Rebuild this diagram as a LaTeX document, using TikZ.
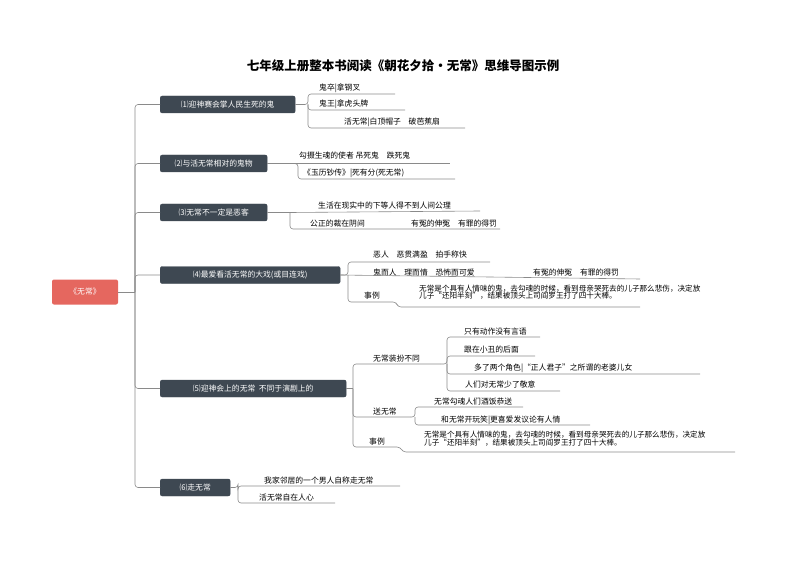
\documentclass[tikz,border=0pt]{standalone}
\usepackage{fontspec}
\setmainfont{Noto Sans CJK SC}
\begin{document}
\begin{tikzpicture}[x=1pt,y=-1pt,
  mainbox/.style={fill=boxc,draw=boxc,rounded corners=2pt,text=white,font=\fontsize{7.8}{8}\selectfont,minimum height=17pt,inner sep=1pt,anchor=west},
  leaf/.style={font=\fontsize{7.8}{8}\selectfont,inner sep=1pt,anchor=base west},
  para/.style={font=\fontsize{7.6}{7.4}\selectfont,inner sep=0pt,anchor=north west,align=left},
  ln/.style={draw=linec,line width=0.6pt},
  br/.style={draw=linec,line width=0.6pt,rounded corners=3pt}]
\definecolor{boxc}{HTML}{3E4852}
\definecolor{linec}{HTML}{8A8A8A}
\definecolor{rootc}{HTML}{E5675F}
\useasboundingbox (0,0) rectangle (794,561);
\node[font=\bfseries\fontsize{12.5}{14}\selectfont] (title) at (403,66) {七年级上册整本书阅读《朝花夕拾·无常》思维导图示例};
\node[fill=rootc,rounded corners=2pt,text=white,minimum width=66pt,minimum height=25pt,font=\fontsize{7.8}{8}\selectfont] (root) at (85,292) {《无常》};
% main boxes
\node[mainbox,minimum width=135pt] (m1) at (160,104.5) {⑴迎神赛会掌人民生死的鬼};
\node[mainbox,minimum width=107pt] (m2) at (160,163.5) {⑵与活无常相对的鬼物};
\node[mainbox,minimum width=107pt] (m3) at (160,212.5) {⑶无常不一定是恶客};
\node[mainbox,minimum width=180pt] (m4) at (160,275) {⑷最爱看活无常的大戏(或目连戏)};
\node[mainbox,minimum width=186pt] (m5) at (160,388.5) {⑸迎神会上的无常\ \ 不同于演剧上的};
\node[mainbox,minimum width=70pt] (m6) at (160,487.5) {⑹走无常};
% trunk
\coordinate (t) at (135,292);
\draw[ln] (root.east) -- (t);
\foreach \m in {m1,m2,m3,m4,m5,m6}{\draw[br] (t) -- (t |- \m.west) -- (\m.west);}
% (1)
\node[leaf] (a1) at (318,91) {鬼卒|拿钢叉};
\node[leaf] (a2) at (318,107) {鬼王|拿虎头牌};
\node[leaf] (a3) at (343,125) {活无常|白顶帽子\quad 破芭蕉扇};
\draw[br] (m1.east) -- (308,104.5) -- (308,94) -- (395,94);
\draw[br] (308,104.5) -- (308,110) -- (405,110);
\draw[br] (308,104.5) -- (308,128) -- (465,128);
% (2)
\node[leaf] (b1) at (298,159) {勾摄生魂的使者\ 吊死鬼\quad 跌死鬼};
\node[leaf] (b2) at (302,176) {《玉历钞传》|死有分(死无常)};
\draw[br] (m2.east) -- (285,163.5) -- (450,163.5);
\draw[br] (285,163.5) -- (298,163.5) -- (298,179) -- (455,179);
% (3)
\node[leaf] (c1) at (317,208) {生活在现实中的下等人得不到人间公理};
\node[leaf] (c2) at (309,226) {公正的裁在阴间};
\node[leaf] (c3) at (410,226) {有冤的伸冤\quad 有罪的得罚};
\draw[br] (m3.east) -- (290,212.5) -- (480,211);
\draw[br] (290,212.5) -- (290,229) -- (500,229);
% (4)
\node[leaf] (d1) at (372,257) {恶人\quad 恶贯满盈\quad 拍手称快};
\node[leaf] (d2) at (372,275) {鬼而人\quad 理而情\quad 恐怖而可爱};
\node[leaf] (d3) at (532,275) {有冤的伸冤\quad 有罪的得罚};
\node[leaf] (d4) at (363,298) {事例};
\node[para] (d5) at (419,284.5) {无常是个具有人情味的鬼，去勾魂的时候，看到母亲哭死去的儿子那么悲伤，决定放\\儿子“还阳半刻”，结果被顶头上司阎罗王打了四十大棒。};
\draw[br] (m4.east) -- (348,275) -- (348,262) -- (490,262);
\draw[br] (340,275) -- (640,279);
\draw[br] (348,275) -- (348,302) -- (396,302) -- (398,307) -- (640,307);
% (5)
\coordinate (e) at (353,388.5);
\draw[ln] (m5.east) -- (e);
\node[leaf] (e1) at (372,361) {无常装扮不同};
\node[leaf] (e2) at (372,414) {送无常};
\node[leaf] (e3) at (368,444) {事例};
\draw[br] (e) -- (353,364) -- (440,364);
\draw[br] (e) -- (353,417) -- (410,417);
\draw[br] (e) -- (353,447) -- (400,447) -- (403,452) -- (735,452);
\node[leaf] (f1) at (463,334) {只有动作没有言语};
\node[leaf] (f2) at (463,352) {跟在小丑的后面};
\node[leaf] (f3) at (473,370) {多了两个角色|“正人君子”之所谓的老婆儿女};
\node[leaf] (f4) at (464,387) {人们对无常少了敬意};
\draw[br] (440,364) -- (447,364) -- (447,337) -- (540,337);
\draw[br] (447,364) -- (447,356) -- (535,356);
\draw[br] (447,364) -- (447,374) -- (700,374);
\draw[br] (447,364) -- (447,391) -- (560,391);
\node[leaf] (g1) at (433,404) {无常勾魂人们酒饭恭送};
\node[leaf] (g2) at (440,422) {和无常开玩笑|更喜爱发议论有人情};
\draw[br] (410,417) -- (415,417) -- (415,407) -- (523,407);
\draw[br] (415,417) -- (415,425) -- (590,425);
\node[para] (e4) at (424,431) {无常是个具有人情味的鬼，去勾魂的时候，看到母亲哭死去的儿子那么悲伤，决定放\\儿子“还阳半刻”，结果被顶头上司阎罗王打了四十大棒。};
% (6)
\node[leaf] (h1) at (263,483) {我家邻居的一个男人自称走无常};
\node[leaf] (h2) at (258,500) {活无常自在人心};
\draw[br] (m6.east) -- (238,487.5) -- (238,486) -- (400,486);
\draw[br] (238,487.5) -- (238,503) -- (335,503);
\end{tikzpicture}
\end{document}
